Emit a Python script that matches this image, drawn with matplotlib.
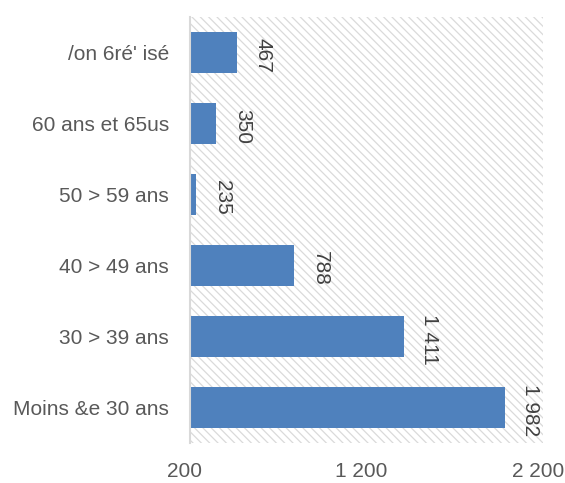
import matplotlib
matplotlib.use("Agg")
import matplotlib.pyplot as plt
import matplotlib.transforms as mtransforms

categories = ["Moins &e 30 ans", "30 > 39 ans", "40 > 49 ans", "50 > 59 ans", "60 ans et 65us", "/on 6ré' isé"]
values = [1982, 1411, 788, 235, 350, 467]
xticks = [200, 1200, 2200]

def fmt(v):
    return f"{v:,}".replace(",", " ")

plt.rcParams['font.family'] = ['Liberation Sans', 'DejaVu Sans']
plt.rcParams['hatch.color'] = '#dadada'
plt.rcParams['hatch.linewidth'] = 0.9

fig = plt.figure(figsize=(5.65, 4.83), dpi=100)
ax = fig.add_axes([190/565, 40/483, 353/565, 426/483])
ax.patch.set_facecolor('white')
ax.patch.set_hatch('\\\\\\\\')
ax.patch.set_edgecolor('#dadada')
ax.patch.set_linewidth(0)

y = range(len(categories))
ax.barh(y, values, height=0.57, color='#4f81bd', zorder=2)
ax.set_xlim(200, 2200)
ax.set_ylim(-0.5, len(categories) - 0.5)
ax.set_yticks(list(y))
ax.set_yticklabels(categories)
ax.set_xticks(xticks)
ax.set_xticklabels([fmt(t) for t in xticks])
ax.tick_params(length=0, labelsize=15, colors='#595959', pad=15)
ax.tick_params(axis='x', pad=14)
shift = mtransforms.ScaledTranslation(-5/100, 0, fig.dpi_scale_trans)
for lab in ax.get_xticklabels():
    lab.set_transform(lab.get_transform() + shift)
for s in ['top', 'right', 'bottom']:
    ax.spines[s].set_visible(False)
ax.spines['left'].set_color('#d9d9d9')
ax.spines['left'].set_linewidth(1.5)

for yi, v in zip(y, values):
    ax.annotate(fmt(v), xy=(v, yi), xytext=(12, -2), textcoords='offset points',
                rotation=270, ha='left', va='center', fontsize=15, color='#404040')

fig.savefig('out.png', dpi=100)
